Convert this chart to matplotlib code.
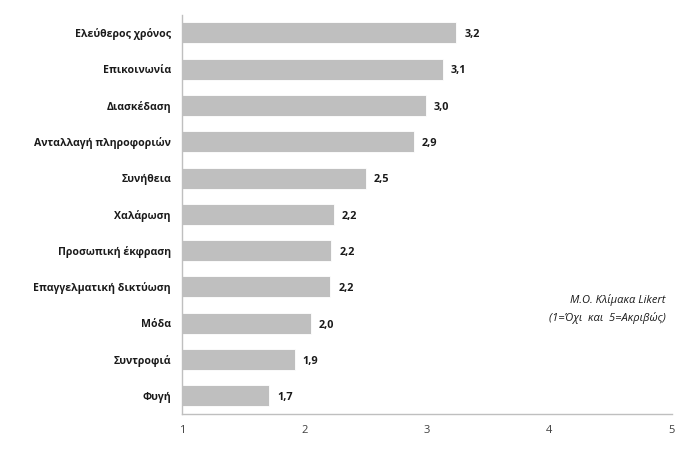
import matplotlib
matplotlib.use("Agg")
import matplotlib.pyplot as plt

plt.rcParams['font.family'] = ['Open Sans', 'DejaVu Sans']

# Data (top to bottom)
categories = ["Ελεύθερος χρόνος", "Επικοινωνία", "Διασκέδαση", "Ανταλλαγή πληροφοριών",
              "Συνήθεια", "Χαλάρωση", "Προσωπική έκφραση", "Επαγγελματική δικτύωση",
              "Μόδα", "Συντροφιά", "Φυγή"]
values = [3.24, 3.13, 2.99, 2.89, 2.50, 2.24, 2.22, 2.21, 2.05, 1.92, 1.71]
xticks = [1, 2, 3, 4, 5]

fig = plt.figure(figsize=(7, 4.67), dpi=100)
ax = fig.add_axes([0.26, 0.1135, 0.70, 0.855])

pos = list(range(len(categories)))
ax.barh(pos, [v - 1 for v in values], left=1, height=0.58,
        color="#BFBFBF", edgecolor="white", linewidth=0.6)

for p, v in zip(pos, values):
    ax.text(v + 0.065, p + 0.05, f"{v:.1f}".replace(".", ","), va="center", ha="left",
            fontsize=7.8, fontweight="bold", color="#1a1a1a")

ax.set_xlim(1, 5)
ax.set_ylim(10.5, -0.5)
ax.set_xticks(xticks)
ax.set_xticklabels([str(t) for t in xticks], fontsize=8, color="#404040")
ax.set_yticks(pos)
ax.set_yticklabels(categories, fontsize=7.6, fontweight="bold", color="#1a1a1a")
ax.tick_params(axis="both", length=0)
ax.tick_params(axis="y", pad=8)
ax.tick_params(axis="x", pad=8)

for s in ["top", "right"]:
    ax.spines[s].set_visible(False)
for s in ["left", "bottom"]:
    ax.spines[s].set_color("#BFBFBF")
    ax.spines[s].set_linewidth(1)

fig.text(0.951, 0.338, "Μ.Ο. Κλίμακα Likert\n(1=Όχι  και  5=Ακριβώς)",
         ha="right", va="center", fontsize=8, style="italic", color="#1a1a1a",
         linespacing=1.6)

fig.savefig("out.png", dpi=100)
